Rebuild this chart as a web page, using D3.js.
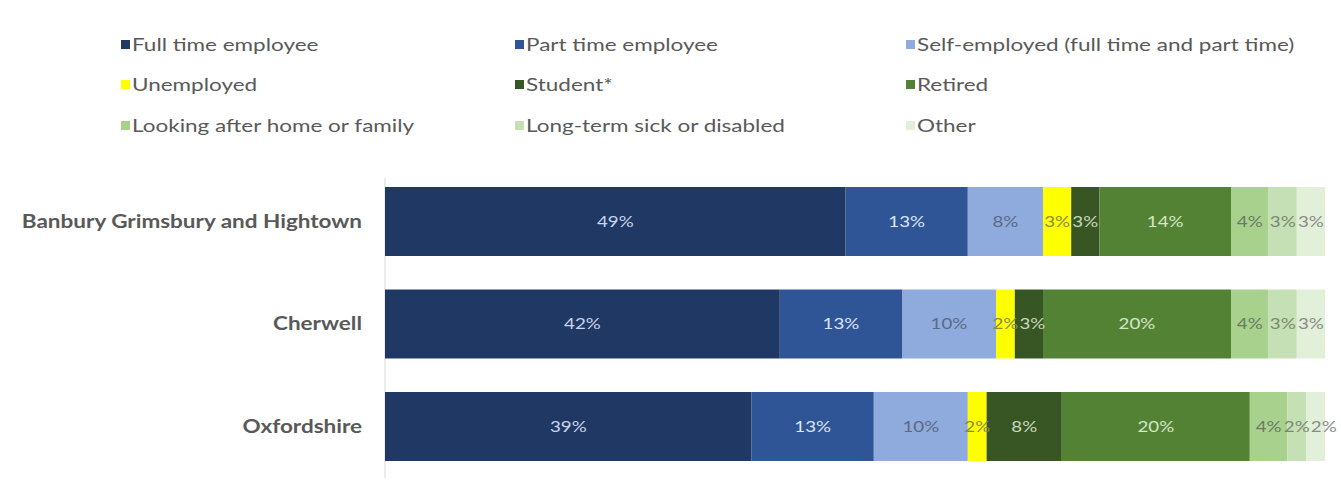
<!DOCTYPE html>
<html>
<head>
<meta charset="utf-8">
<script src="https://cdn.jsdelivr.net/npm/d3@7/dist/d3.min.js"></script>
<style>
  html, body { margin: 0; padding: 0; background: #ffffff; }
  svg { display: block; }
  text { font-family: Lato, "Open Sans", sans-serif; }
</style>
</head>
<body>
<svg id="chart" width="1341" height="495"></svg>
<script>
// Economic activity of residents, by area (percent of residents aged 16+)
const areas = ["Banbury Grimsbury and Hightown", "Cherwell", "Oxfordshire"];
const activities = [
  "Full time employee", "Part time employee", "Self-employed (full time and part time)",
  "Unemployed", "Student*", "Retired",
  "Looking after home or family", "Long-term sick or disabled", "Other"
];
const fullTime      = [49, 42, 39];
const partTime      = [13, 13, 13];
const selfEmployed  = [8, 10, 10];
const unemployed    = [3, 2, 2];
const student       = [3, 3, 8];
const retired       = [14, 20, 20];
const lookingAfter  = [4, 4, 4];
const longTermSick  = [3, 3, 2];
const other         = [3, 3, 2];

const seriesValues = [fullTime, partTime, selfEmployed, unemployed, student,
                      retired, lookingAfter, longTermSick, other];
const colors = ["#203864", "#2f5597", "#8faadc", "#ffff00", "#375623",
                "#548235", "#a9d18e", "#c5e0b4", "#e2f0d9"];
const labelColors = ["#c9d4ee", "#dce5f6", "#5a6a86", "#8a8a40", "#c8d8bc",
                     "#d3e6c6", "#6b7a62", "#7a8873", "#8a8a8a"];

// horizontal stretch applied to every text element
const STRETCH = 1.25;

const rows = areas.map((a, i) => {
  const r = { area: a };
  activities.forEach((k, j) => { r[k] = seriesValues[j][i]; });
  return r;
});

const stacked = d3.stack().keys(activities)(rows);

const svg = d3.select("#chart");

const x = d3.scaleLinear().domain([0, 100]).range([385, 1325]);
const y = d3.scaleBand().domain(areas).range([153.5, 494.5])
  .paddingInner(0.327).paddingOuter(0.327);

function place(sel, px, py) {
  return sel.attr("transform", (d, i) =>
    `translate(${typeof px === "function" ? px(d, i) : px},${typeof py === "function" ? py(d, i) : py}) scale(${STRETCH},1)`);
}

// category axis line
svg.append("line")
  .attr("x1", x(0)).attr("x2", x(0))
  .attr("y1", 178).attr("y2", 478)
  .attr("stroke", "#d9d9d9").attr("stroke-width", 1);

// stacked segments
const layer = svg.selectAll("g.layer").data(stacked).enter()
  .append("g").attr("class", "layer")
  .attr("fill", (d, i) => colors[i]);

layer.selectAll("rect").data(d => d).enter().append("rect")
  .attr("x", d => x(d[0]))
  .attr("y", d => y(d.data.area))
  .attr("width", d => x(d[1]) - x(d[0]))
  .attr("height", y.bandwidth());

// value labels, centred on each segment; narrow neighbours are nudged right
const labelG = svg.append("g");
areas.forEach((area, r) => {
  let prevEnd = -Infinity;
  stacked.forEach((s, i) => {
    const d = s[r];
    const t = labelG.append("text")
      .attr("dy", "0.35em")
      .attr("text-anchor", "middle")
      .attr("font-size", 15)
      .attr("fill", labelColors[i])
      .text((d[1] - d[0]) + "%");
    const w = t.node().getComputedTextLength() * STRETCH;
    let cx = (x(d[0]) + x(d[1])) / 2;
    if (cx - w / 2 < prevEnd + 1) cx = prevEnd + 1 + w / 2;
    prevEnd = cx + w / 2;
    t.attr("transform", `translate(${cx},${y(area) + y.bandwidth() / 2}) scale(${STRETCH},1)`);
  });
});

// category labels
const cats = svg.append("g").selectAll("text").data(areas).enter().append("text")
  .attr("dy", "0.35em")
  .attr("text-anchor", "end")
  .attr("font-size", 18)
  .attr("font-weight", "bold")
  .attr("fill", "#595959")
  .text(d => d);
place(cats, x(0) - 23, d => y(d) + y.bandwidth() / 2);

// legend, three columns
const legendCols = [121, 515, 906];
const legendRows = [45, 85, 126];
const legend = svg.append("g");
activities.forEach((name, i) => {
  const cx = legendCols[i % 3], cy = legendRows[Math.floor(i / 3)];
  legend.append("rect")
    .attr("x", cx).attr("y", cy - 5)
    .attr("width", 9).attr("height", 9)
    .attr("fill", colors[i]);
  const t = legend.append("text")
    .attr("dy", "0.35em")
    .attr("font-size", 18)
    .attr("fill", "#595959")
    .text(name);
  place(t, cx + 11, cy);
});
</script>
</body>
</html>
